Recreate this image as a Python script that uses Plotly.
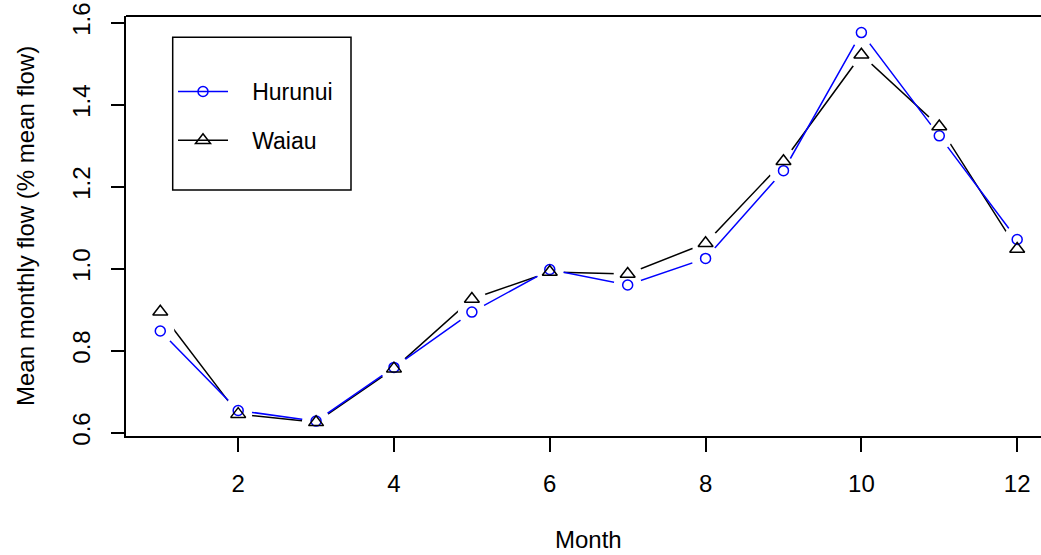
import plotly.graph_objects as go

months = list(range(1, 13))
hurunui = [0.848, 0.654, 0.628, 0.759, 0.894, 0.998, 0.960, 1.025, 1.239, 1.576, 1.324, 1.071]
waiau = [0.895, 0.645, 0.625, 0.756, 0.926, 0.992, 0.987, 1.062, 1.262, 1.522, 1.347, 1.048]
x_ticks = [2, 4, 6, 8, 10, 12]
y_ticks = [0.6, 0.8, 1.0, 1.2, 1.4, 1.6]
y_ticktext = ["0.6", "0.8", "1.0", "1.2", "1.4", "1.6"]

FONT = "Liberation Sans, Arial, sans-serif"
FS_TICK = 24
FS_TITLE = 24
FS_LEG = 23
BLUE = "#0000FF"
BLACK = "#000000"

W, H = 1041, 555
ML, MR, MT, MB = 126, 0, 16, 119

fig = go.Figure()

circ = dict(symbol="circle-open", size=10, color=BLUE, line=dict(color=BLUE, width=1.5))
tri = dict(symbol="triangle-up-open", size=13, color=BLACK, line=dict(color=BLACK, width=1.5))
gap = 28
pad = "\u00a0\u00a0\u00a0"

# Waiau line + gaps
fig.add_trace(go.Scatter(x=months, y=waiau, mode="lines+markers", name=pad + "Waiau",
                         line=dict(color=BLACK, width=1.5), marker=tri,
                         legendgroup="w", legendrank=2, hoverinfo="skip"))
fig.add_trace(go.Scatter(x=months, y=waiau, mode="markers", showlegend=False,
                         marker=dict(symbol="circle", size=gap, color="white", line=dict(width=0)),
                         hoverinfo="skip"))
# Hurunui line + gaps
fig.add_trace(go.Scatter(x=months, y=hurunui, mode="lines+markers", name=pad + "Hurunui",
                         line=dict(color=BLUE, width=1.5), marker=circ,
                         legendgroup="h", legendrank=1, hoverinfo="skip"))
fig.add_trace(go.Scatter(x=months, y=hurunui, mode="markers", showlegend=False,
                         marker=dict(symbol="circle", size=gap, color="white", line=dict(width=0)),
                         hoverinfo="skip"))
# point symbols on top
fig.add_trace(go.Scatter(x=months, y=hurunui, mode="markers", showlegend=False, marker=circ, hoverinfo="skip"))
fig.add_trace(go.Scatter(x=months, y=waiau, mode="markers", showlegend=False, marker=tri, hoverinfo="skip"))

pw = W - ML - MR
ph = H - MT - MB

# top border of the plot box (right side is cropped in the reference)
fig.add_shape(type="line", xref="paper", yref="paper", x0=0, x1=1, y0=1, y1=1,
              line=dict(color=BLACK, width=2), layer="above")
# legend frame
fig.add_shape(type="rect", xref="paper", yref="paper",
              x0=(172.7 - ML) / pw, x1=(351 - ML) / pw,
              y0=1 - (190 - MT) / ph, y1=1 - (37.3 - MT) / ph,
              line=dict(color=BLACK, width=1.5), fillcolor="rgba(0,0,0,0)", layer="above")

fig.add_annotation(text="Month", xref="x", yref="paper", x=6.5, y=0, yshift=-(539 - 436),
                   showarrow=False, xanchor="center", yanchor="middle", borderpad=0,
                   font=dict(family=FONT, size=FS_TITLE, color=BLACK))
fig.add_annotation(text="Mean monthly flow (% mean flow)", xref="paper", yref="paper",
                   x=0, y=0.5, xshift=-(ML - 25), textangle=-90,
                   showarrow=False, xanchor="center", yanchor="middle",
                   font=dict(family=FONT, size=FS_TITLE, color=BLACK))

fig.update_layout(
    width=W, height=H,
    margin=dict(l=ML, r=MR, t=MT, b=MB, pad=0),
    paper_bgcolor="white", plot_bgcolor="white",
    font=dict(family=FONT, size=FS_TICK, color=BLACK),
    showlegend=True,
    legend=dict(x=(173 - ML) / pw, y=1 - (70 - MT) / ph, xanchor="left", yanchor="top",
                bgcolor="rgba(0,0,0,0)", borderwidth=0, itemwidth=50,
                tracegroupgap=16, font=dict(family=FONT, size=FS_LEG, color=BLACK)),
    xaxis=dict(range=[0.56, 0.56 + pw / 77.9], tickvals=x_ticks, ticks="outside", ticklen=14,
               tickwidth=1.5, tickcolor=BLACK, showline=True, linecolor=BLACK, linewidth=2,
               showgrid=False, zeroline=False, ticklabelstandoff=11,
               tickfont=dict(family=FONT, size=FS_TICK, color=BLACK)),
    yaxis=dict(range=[0.5917, 1.6164], tickvals=y_ticks, ticktext=y_ticktext, ticks="outside",
               ticklen=13, tickwidth=1.5, tickcolor=BLACK, showline=True, linecolor=BLACK,
               linewidth=2, showgrid=False, zeroline=False, tickangle=-90, ticklabelstandoff=11,
               tickfont=dict(family=FONT, size=FS_TICK, color=BLACK)),
)

fig.write_html("out.html")
